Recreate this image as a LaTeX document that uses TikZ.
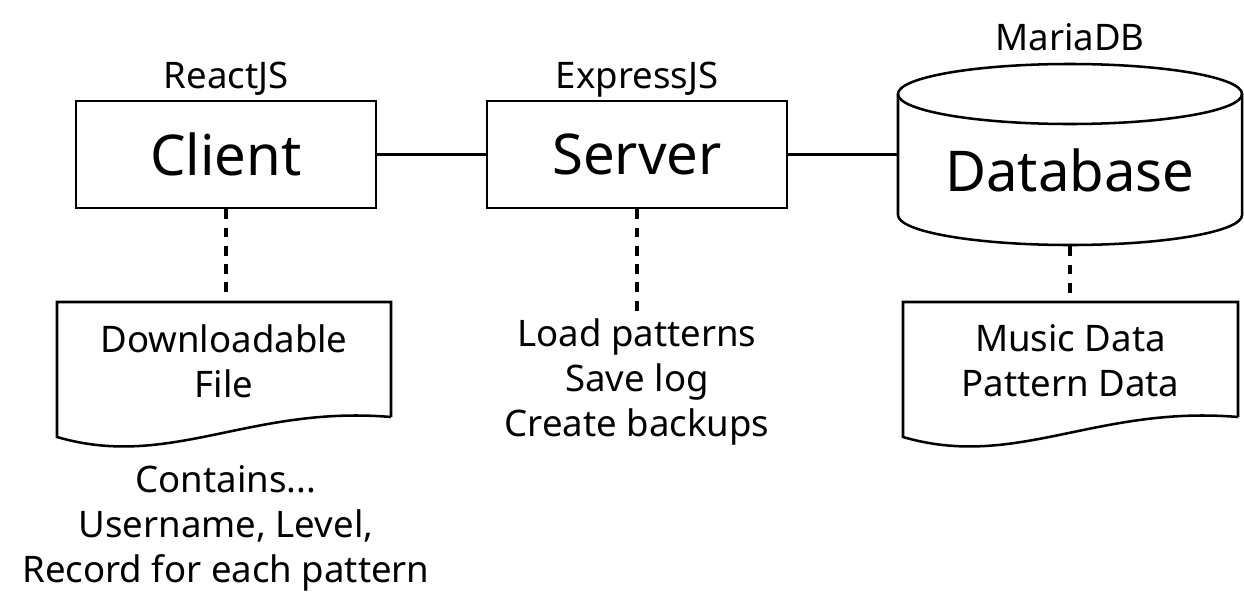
\documentclass[tikz,border=0pt]{standalone}
\usepackage{fontspec}
\setmainfont{Noto Sans}
\usetikzlibrary{positioning}
\newcommand\bigtxt{\fontsize{40}{48}\selectfont}
\newcommand\smalltxt{\fontsize{26}{32}\selectfont}

\begin{document}
\begin{tikzpicture}[x=0.025cm, y=-0.025cm, line width=1.8pt,
  box/.style={draw, minimum width=7.5cm, minimum height=2.675cm, font=\bigtxt},
  tag/.style={anchor=base, font=\smalltxt},
  docbox/.style={minimum width=8.35cm, minimum height=2.95cm, align=center, font=\smalltxt},
  dashline/.style={line width=2.2pt, dash pattern=on 7pt off 6pt}]
\useasboundingbox (0,0) rectangle (1244,613);

\node[box] (client) at (226,154.5) {Client};
\node[box] (server) at (637,154.5) {Server};
\node[minimum width=8.6cm, minimum height=4.525cm] (db) at (1070,154.5) {};
\node[font=\bigtxt] (dbtext) at (1070,170) {Database};
\draw (898,94) -- (898,215) arc[start angle=180, end angle=360, x radius=4.3cm, y radius=0.75cm] -- (1242,94);
\draw (1070,94) ellipse [x radius=4.3cm, y radius=0.75cm];

\node[tag] (react) at (226,88) {ReactJS};
\node[tag] (express) at (637,88) {ExpressJS};
\node[tag] (maria) at (1070,50) {MariaDB};

\draw (client) -- (server);
\draw (server) -- (db);

% documents
\node[docbox] (file) at (224,361) {Downloadable\\File};
\draw (391,417) -- (391,302) -- (57,302) -- (57,437) .. controls (170,470) and (250,405) .. (391,417);
\node[docbox] (data) at (1070.5,361) {Music Data\\Pattern Data};
\draw (1238,417) -- (1238,302) -- (903,302) -- (903,437) .. controls (1016,470) and (1096,405) .. (1238,417);

\node[align=center, font=\smalltxt] (tasks) at (637,382) {Load patterns\\Save log\\Create backups};
\node[align=center, font=\smalltxt] (contents) at (226,528) {Contains...\\Username, Level,\\Record for each pattern};

\draw[dashline] (client.south) -- (client.south |- file.north);
\draw[dashline] (server.south) -- (tasks.north);
\draw[dashline] (db.south) -- (db.south |- data.north);
\end{tikzpicture}
\end{document}
